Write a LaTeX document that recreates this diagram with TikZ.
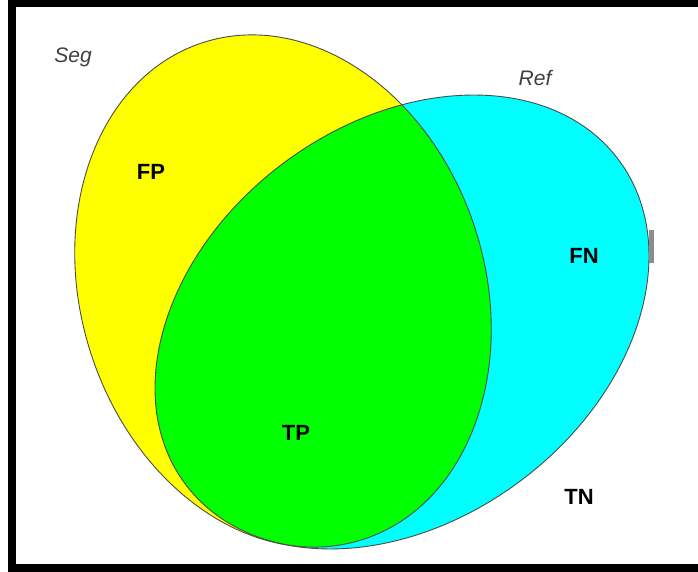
\documentclass[tikz,border=0pt]{standalone}
\usepackage{fontspec}
\setmainfont{Liberation Sans}
\begin{document}
\begin{tikzpicture}[x=1pt,y=1pt,
  region/.style={draw=black!70, line width=0.9pt},
  catlabel/.style={font=\fontsize{22}{22}\selectfont\bfseries, text=black, inner sep=0pt},
  setlabel/.style={font=\fontsize{21}{21}\selectfont\itshape, text=black!75, inner sep=0pt}]
\definecolor{segyellow}{RGB}{255,255,0}
\definecolor{refcyan}{RGB}{0,255,255}
\definecolor{tpgreen}{RGB}{0,255,0}
\useasboundingbox (0,0) rectangle (698,571);
\clip (0,0) rectangle (698,571);
\fill[white] (0,0) rectangle (698,571);
% Seg (yellow) and Ref (cyan) regions
\fill[segyellow, shift={(283,280)}, rotate=17.8] (0,0) ellipse [x radius=202pt, y radius=261pt];
\fill[refcyan, shift={(402,249)}, rotate=36.9] (0,0) ellipse [x radius=270.6pt, y radius=198.2pt];
% intersection (green)
\begin{scope}
  \clip[shift={(283,280)}, rotate=17.8] (0,0) ellipse [x radius=202pt, y radius=261pt];
  \fill[tpgreen, shift={(402,249)}, rotate=36.9] (0,0) ellipse [x radius=270.6pt, y radius=198.2pt];
\end{scope}
\draw[region, shift={(283,280)}, rotate=17.8] (0,0) ellipse [x radius=202pt, y radius=261pt];
\draw[region, shift={(402,249)}, rotate=36.9] (0,0) ellipse [x radius=270.6pt, y radius=198.2pt];
% small mark on right edge
\fill[black!45] (649,308) rectangle (654,341);
% labels
\node[setlabel] (seg) at (73,514) {Seg};
\node[setlabel] (ref) at (535,493) {Ref};
\node[catlabel] (fp) at (151,399) {FP};
\node[catlabel] (fn) at (584,315) {FN};
\node[catlabel] (tp) at (296,138) {TP};
\node[catlabel] (tn) at (579,74) {TN};
% frame
\draw[line width=8pt] (720,567.5) -- (12,567.5) -- (12,3.5) -- (720,3.5);
\end{tikzpicture}
\end{document}
